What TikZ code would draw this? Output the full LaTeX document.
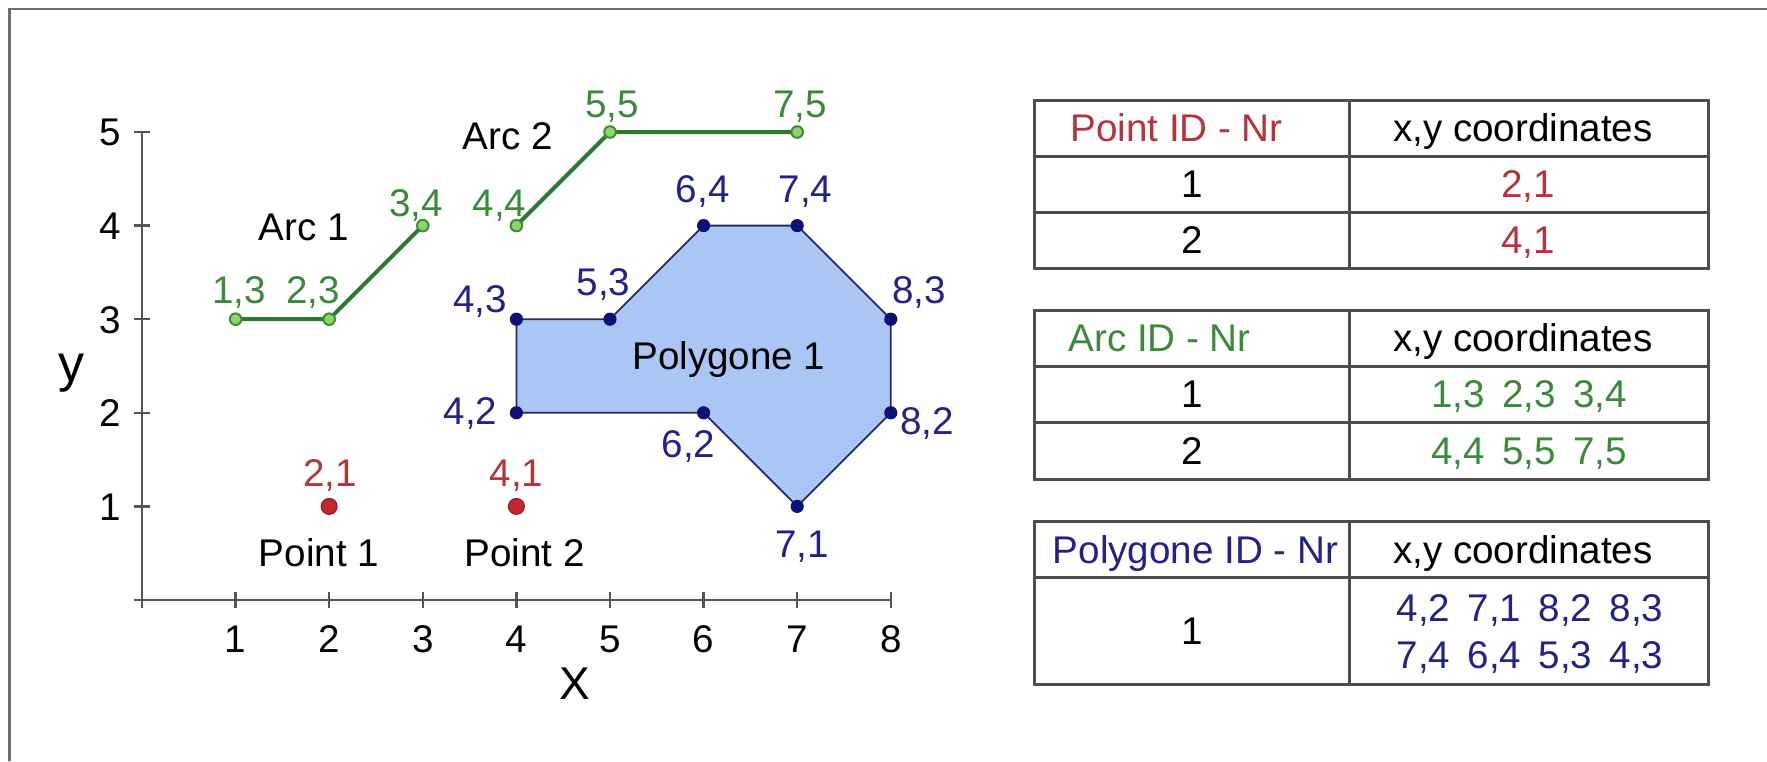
\documentclass[tikz,border=0pt]{standalone}
\usepackage{fontspec}
\setmainfont{Liberation Sans}
\definecolor{ptred}{HTML}{B8323A}
\definecolor{dotred}{HTML}{C4262B}
\definecolor{dotredline}{HTML}{8A1A1E}
\definecolor{arcgreen}{HTML}{2C7A2C}
\definecolor{txtgreen}{HTML}{3A8A3A}
\definecolor{mkgreen}{HTML}{8ED46C}
\definecolor{navy}{HTML}{22228A}
\definecolor{dotnavy}{HTML}{0F0F78}
\definecolor{polyfill}{HTML}{AAC6F4}
\definecolor{polyline}{HTML}{2A2A60}
\definecolor{axisgray}{HTML}{555555}
\definecolor{tablegray}{HTML}{4E4E4E}
\definecolor{framegray}{HTML}{6E6E6E}
\begin{document}
\begin{tikzpicture}[x=0.5pt,y=-0.5pt,
  every node/.style={inner sep=0pt, font=\fontsize{19.3}{23}\selectfont},
  lbl/.style={anchor=base, yshift=-6.9pt},
  axisline/.style={draw=axisgray, line width=1.2pt},
  tline/.style={draw=tablegray, line width=1.5pt},
  arcline/.style={draw=arcgreen, line width=2pt, line join=round},
  arcmark/.style={draw=arcgreen!80!mkgreen, fill=mkgreen, line width=1pt},
  polyshape/.style={fill=polyfill, draw=polyline, line width=0.9pt},
  bluedot/.style={fill=dotnavy},
  reddot/.style={fill=dotred, draw=dotredline, line width=0.5pt},
  redtxt/.style={text=ptred},
  greentxt/.style={text=txtgreen},
  bluetxt/.style={text=navy}]
\useasboundingbox (0,0) rectangle (1767,761);
\fill[white] (0,0) rectangle (1767,761);
% frame (top and left edges)
\coordinate (fbl) at (9.5,761);
\coordinate (ftl) at (9.5,9);
\coordinate (ftr) at (1767,9);
\draw[framegray, line width=1.3pt] (fbl) -- (ftl) -- (ftr);

% ---------------- plot ----------------
\begin{scope}[shift={(71pt,-300pt)}, x=46.8pt, y=46.8pt]
  \coordinate (xstart) at (-0.09,0);
  \coordinate (xend) at (8,0);
  \coordinate (ystart) at (0,-0.09);
  \coordinate (yend) at (0,5);
  \draw[axisline] (xstart) -- (xend);
  \draw[axisline] (ystart) -- (yend);
  \foreach \i in {1,...,8} {
    \draw[axisline] (\i,-0.085) -- (\i,0.085);
    \node[lbl] (xt\i) at (\i,-0.41) {\i};
  }
  \foreach \i in {1,...,5} {
    \draw[axisline] (-0.085,\i) -- (0.085,\i);
    \node[lbl] (yt\i) at (-0.34,\i) {\i};
  }
  \node[font=\fontsize{23}{26}\selectfont] (xlab) at (4.62,-0.89) {X};
  \node[font=\fontsize{26}{30}\selectfont] (ylab) at (-0.75,2.42) {y};

  % polygon
  \foreach \n/\x/\y in {a/4/2, b/6/2, c/7/1, d/8/2, e/8/3, f/7/4, g/6/4, h/5/3, i/4/3}
    \coordinate (p\n) at (\x,\y);
  \path[polyshape] (pa) -- (pb) -- (pc) -- (pd) -- (pe) -- (pf) -- (pg) -- (ph) -- (pi) -- cycle;
  \foreach \n in {a,b,c,d,e,f,g,h,i}
    \fill[bluedot] (p\n) circle (3.3pt);
  \node[lbl] (poly) at (6.27,2.61) {Polygone 1};
  \node[lbl,bluetxt] (l42) at (3.51,2.02) {4,2};
  \node[lbl,bluetxt] (l62) at (5.84,1.67) {6,2};
  \node[lbl,bluetxt] (l71) at (7.05,0.6) {7,1};
  \node[lbl,bluetxt] (l82) at (8.39,1.92) {8,2};
  \node[lbl,bluetxt] (l83) at (8.30,3.32) {8,3};
  \node[lbl,bluetxt] (l74) at (7.09,4.39) {7,4};
  \node[lbl,bluetxt] (l64) at (5.99,4.39) {6,4};
  \node[lbl,bluetxt] (l53) at (4.93,3.40) {5,3};
  \node[lbl,bluetxt] (l43) at (3.61,3.22) {4,3};

  % arcs
  \coordinate (a13) at (1,3);
  \coordinate (a23) at (2,3);
  \coordinate (a34) at (3,4);
  \coordinate (a44) at (4,4);
  \coordinate (a55) at (5,5);
  \coordinate (a75) at (7,5);
  \draw[arcline] (a13) -- (a23) -- (a34);
  \draw[arcline] (a44) -- (a55) -- (a75);
  \foreach \n in {a13,a23,a34,a44,a55,a75}
    \draw[arcmark] (\n) circle (2.9pt);
  \node[lbl] (arc1) at (1.73,3.99) {Arc 1};
  \node[lbl] (arc2) at (3.91,4.96) {Arc 2};
  \node[lbl,greentxt] (l13) at (1.04,3.31) {1,3};
  \node[lbl,greentxt] (l23) at (1.83,3.31) {2,3};
  \node[lbl,greentxt] (l34) at (2.93,4.25) {3,4};
  \node[lbl,greentxt] (l44) at (3.82,4.25) {4,4};
  \node[lbl,greentxt] (l55) at (5.02,5.30) {5,5};
  \node[lbl,greentxt] (l75) at (7.03,5.30) {7,5};

  % points
  \coordinate (pt1) at (2,1);
  \coordinate (pt2) at (4,1);
  \path[reddot] (pt1) circle (4pt);
  \path[reddot] (pt2) circle (4pt);
  \node[lbl,redtxt] (l21) at (2.01,1.36) {2,1};
  \node[lbl,redtxt] (l41) at (4.0,1.36) {4,1};
  \node[lbl] (point1) at (1.89,0.51) {Point 1};
  \node[lbl] (point2) at (4.09,0.51) {Point 2};
\end{scope}

% ---------------- tables ----------------
% table 1
\draw[tline] (1034.5,100) rectangle (1708,268);
\draw[tline] (1034.5,156) -- (1708,156);
\draw[tline] (1034.5,212) -- (1708,212);
\draw[tline] (1349,100) -- (1349,268);
\node[lbl,redtxt,anchor=base west] (t1h1) at (1070,128) {Point ID - Nr};
\node[lbl] (t1h2) at (1523,128) {x,y coordinates};
\node[lbl] (t1r1) at (1192,184) {1};
\node[lbl] (t1r2) at (1192,240) {2};
\node[lbl,redtxt] (t1v1) at (1528,184) {2,1};
\node[lbl,redtxt] (t1v2) at (1528,240) {4,1};

% table 2
\draw[tline] (1034.5,310) rectangle (1708,479);
\draw[tline] (1034.5,366) -- (1708,366);
\draw[tline] (1034.5,422.5) -- (1708,422.5);
\draw[tline] (1349,310) -- (1349,479);
\node[lbl,greentxt,anchor=base west] (t2h1) at (1068,338) {Arc ID - Nr};
\node[lbl] (t2h2) at (1523,338) {x,y coordinates};
\node[lbl] (t2r1) at (1192,394) {1};
\node[lbl] (t2r2) at (1192,451) {2};
\node[lbl,greentxt] (t2v1) at (1529,394) {1,3\hspace{0.45em}2,3\hspace{0.45em}3,4};
\node[lbl,greentxt] (t2v2) at (1529,451) {4,4\hspace{0.45em}5,5\hspace{0.45em}7,5};

% table 3
\draw[tline] (1034.5,521.5) rectangle (1708,684);
\draw[tline] (1034.5,577.5) -- (1708,577.5);
\draw[tline] (1349,521.5) -- (1349,684);
\node[lbl,bluetxt] (t3h1) at (1195.5,549.5) {Polygone ID - Nr};
\node[lbl] (t3h2) at (1523,549.5) {x,y coordinates};
\node[lbl] (t3r1) at (1192,631) {1};
\node[lbl,bluetxt] (t3v1) at (1530,608) {4,2\hspace{0.45em}7,1\hspace{0.45em}8,2\hspace{0.45em}8,3};
\node[lbl,bluetxt] (t3v2) at (1530,655) {7,4\hspace{0.45em}6,4\hspace{0.45em}5,3\hspace{0.45em}4,3};
\end{tikzpicture}
\end{document}
